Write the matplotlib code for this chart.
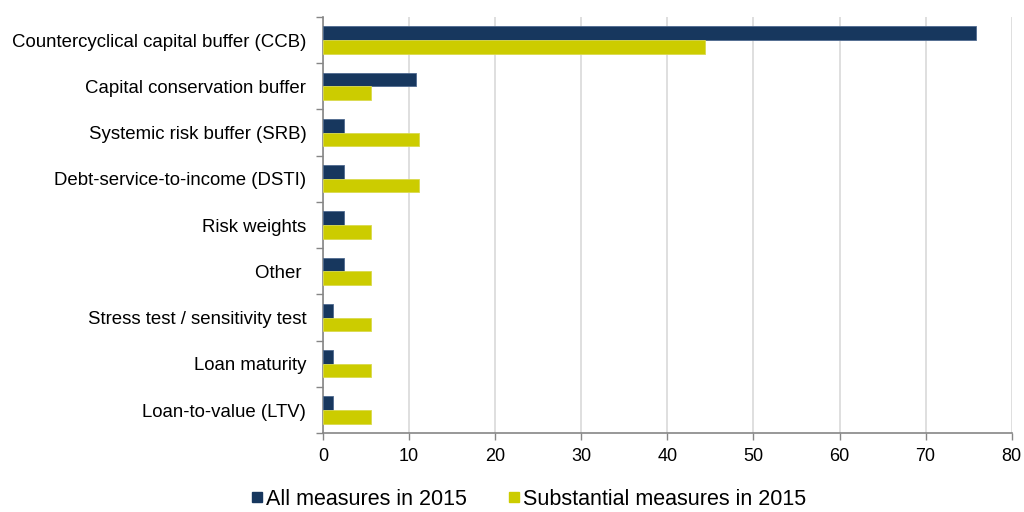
import matplotlib
matplotlib.use("Agg")
import matplotlib.pyplot as plt
from matplotlib.lines import Line2D
import numpy as np

plt.rcParams['font.family'] = ['Liberation Sans', 'DejaVu Sans']

categories = [
    "Countercyclical capital buffer (CCB)",
    "Capital conservation buffer",
    "Systemic risk buffer (SRB)",
    "Debt-service-to-income (DSTI)",
    "Risk weights",
    "Other ",
    "Stress test / sensitivity test",
    "Loan maturity",
    "Loan-to-value (LTV)",
]
all_measures = [75.9, 10.8, 2.4, 2.4, 2.4, 2.4, 1.2, 1.2, 1.2]
substantial_measures = [44.4, 5.6, 11.1, 11.1, 5.6, 5.6, 5.6, 5.6, 5.6]
series_names = ["All measures in 2015", "Substantial measures in 2015"]
xticks = [0, 10, 20, 30, 40, 50, 60, 70, 80]

dark = "#17375E"
yellow = "#CCCC00"
axis_gray = "#868686"
grid_gray = "#D9D9D9"

fig = plt.figure(figsize=(10.24, 5.12), dpi=100)
ax = fig.add_axes([0.3154, 0.154, 0.988 - 0.3154, 0.967 - 0.154])

y = np.arange(len(categories))
h = 0.295
ax.barh(y - h / 2, all_measures, height=h, color=dark, edgecolor="#4F6A8F", linewidth=0.6, zorder=3)
ax.barh(y + h / 2, substantial_measures, height=h, color=yellow, edgecolor="#DADA4D", linewidth=0.6, zorder=3)

ax.set_xlim(0, 80)
ax.set_ylim(len(categories) - 0.5, -0.5)
ax.set_xticks(xticks)
ax.set_xticklabels([str(t) for t in xticks], fontsize=13)
ax.set_yticks(y)
ax.set_yticklabels(categories, fontsize=13.4)
ax.set_yticks(np.arange(-0.5, len(categories) + 0.5, 1), minor=True)
ax.tick_params(axis='y', which='major', length=0, pad=12)
ax.tick_params(axis='y', which='minor', length=5, color=axis_gray, width=1)
ax.tick_params(axis='x', which='major', length=5, color=axis_gray, width=1, pad=6)

ax.xaxis.grid(True, color=grid_gray, linewidth=1.2, zorder=0)
ax.set_axisbelow(True)
for s in ["top", "right"]:
    ax.spines[s].set_visible(False)
for s in ["left", "bottom"]:
    ax.spines[s].set_color(axis_gray)
    ax.spines[s].set_linewidth(1.2)

handles = [
    Line2D([0], [0], marker='s', linestyle='none', markersize=7, markerfacecolor=dark, markeredgecolor=dark),
    Line2D([0], [0], marker='s', linestyle='none', markersize=7, markerfacecolor=yellow, markeredgecolor=yellow),
]
fig.legend(handles, series_names, loc='center', bbox_to_anchor=(0.515, 0.025), ncol=2,
           frameon=False, fontsize=15.5, handletextpad=0.0, columnspacing=1.8, handlelength=0.8)

fig.savefig("out.png", dpi=100)
